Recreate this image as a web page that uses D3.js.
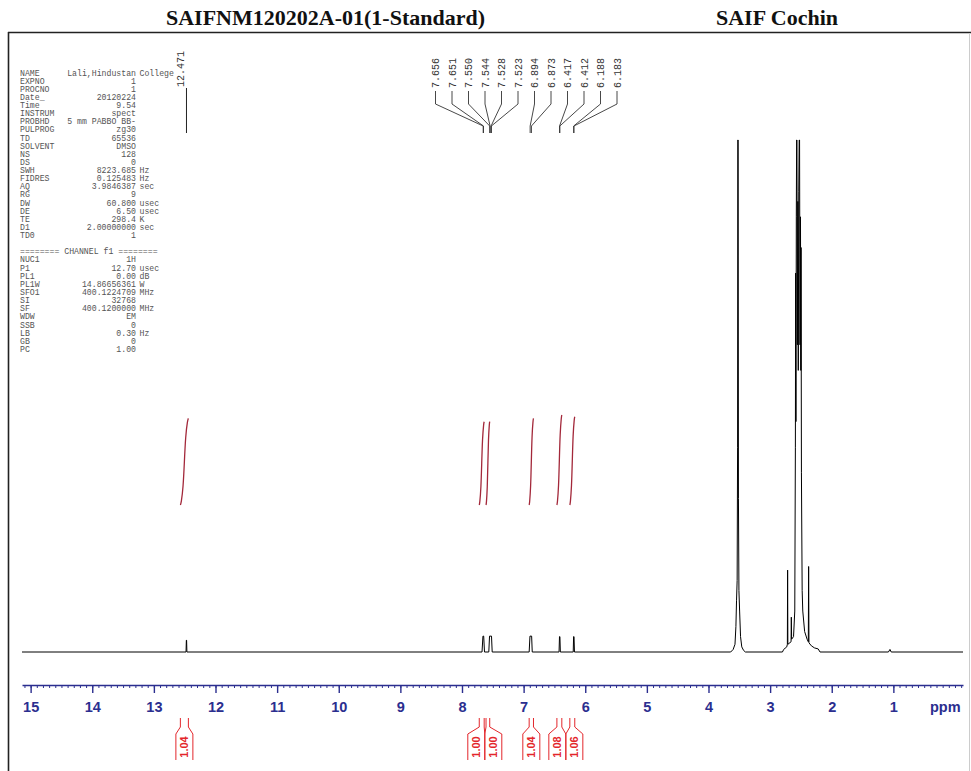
<!DOCTYPE html>
<html>
<head>
<meta charset="utf-8">
<script src="https://cdn.jsdelivr.net/npm/d3@7"></script>
<style>
body { margin: 0; background: #fff; }
</style>
</head>
<body>
<div id="chart"></div>
<script>
var titleLeft = "SAIFNM120202A-01(1-Standard)"
var titleRight = "SAIF Cochin"

// acquisition parameters block
var paramNames = ["NAME", "EXPNO", "PROCNO", "Date_", "Time", "INSTRUM", "PROBHD", "PULPROG", "TD", "SOLVENT",
    "NS", "DS", "SWH", "FIDRES", "AQ", "RG", "DW", "DE", "TE", "D1", "TD0", "",
    "======== CHANNEL f1 ========", "NUC1", "P1", "PL1", "PL1W", "SFO1", "SI", "SF", "WDW", "SSB", "LB", "GB", "PC"]
var paramValues = ["Lali,Hindustan", "1", "1", "20120224", "9.54", "spect", "5 mm PABBO BB-", "zg30", "65536", "DMSO",
    "128", "0", "8223.685", "0.125483", "3.9846387", "9", "60.800", "6.50", "298.4", "2.00000000", "1", "",
    "", "1H", "12.70", "0.00", "14.86656361", "400.1224709", "32768", "400.1200000", "EM", "0", "0.30", "0", "1.00"]
var paramUnits = ["College", "", "", "", "", "", "", "", "", "",
    "", "", "Hz", "Hz", "sec", "", "usec", "usec", "K", "sec", "", "",
    "", "", "usec", "dB", "W", "MHz", "", "MHz", "", "", "Hz", "", ""]

var singleLabel = 12.471
var peakLabels = [7.656, 7.651, 7.550, 7.544, 7.528, 7.523, 6.894, 6.873, 6.417, 6.412, 6.188, 6.183]

var axisTicks = [15, 14, 13, 12, 11, 10, 9, 8, 7, 6, 5, 4, 3, 2, 1]

// spectrum trace, [ppm, relative intensity]
var spectrum = [
    [15.14, 0], [12.478, 0], [12.473, 2.3], [12.469, 2.3], [12.464, 0],
    [7.675, 0], [7.660, 3.1], [7.648, 3.1], [7.635, 0],
    [7.565, 0], [7.553, 3.1], [7.521, 3.1], [7.51, 0],
    [6.91, 0], [6.897, 3.1], [6.870, 3.1], [6.86, 0],
    [6.425, 0], [6.418, 3.0], [6.411, 3.0], [6.404, 0],
    [6.195, 0], [6.189, 3.0], [6.182, 3.0], [6.175, 0],
    [3.64, 0], [3.60, 0.5], [3.57, 1.5], [3.555, 5], [3.545, 10], [3.535, 14], [3.528, 40],
    [3.524, 100], [3.519, 100], [3.514, 30], [3.506, 12], [3.495, 8], [3.48, 3], [3.46, 1], [3.43, 0.3], [3.40, 0],
    [2.80, 0], [2.78, 0.5], [2.73, 1], [2.72, 1.5], [2.716, 16], [2.712, 1.5], [2.66, 2], [2.656, 6.8], [2.651, 2.5],
    [2.62, 3], [2.60, 8], [2.59, 40], [2.586, 74], [2.581, 45], [2.575, 85], [2.570, 100], [2.565, 100],
    [2.558, 60], [2.550, 88], [2.543, 55], [2.535, 90], [2.528, 100], [2.522, 100], [2.515, 60], [2.507, 85],
    [2.502, 55], [2.498, 79], [2.492, 35], [2.48, 12], [2.47, 8], [2.44, 4], [2.40, 2.5], [2.38, 2],
    [2.375, 16.7], [2.370, 1.8], [2.33, 1.2], [2.28, 0.8], [2.22, 0.6], [2.19, 0],
    [1.08, 0], [1.055, 0.5], [1.035, 0], [-0.13, 0]
]

var integralFrom = [12.57, 7.72, 7.61, 6.91, 6.46, 6.25]
var integralTo = [12.44, 7.64, 7.55, 6.84, 6.38, 6.17]
var integralValues = [1.04, 1.00, 1.00, 1.04, 1.08, 1.06]

var width = 971, height = 771
var axisY = 685

var svg = d3.select("#chart").append("svg")
    .attr("width", width)
    .attr("height", height)

var x = d3.scaleLinear().domain([15.14, -0.13]).range([22, 963])
var y = d3.scaleLinear().domain([0, 100]).range([652, 140])
var yInt = d3.scaleLinear().domain([0, 1]).range([505, 421.7])

// frame
svg.append("line").attr("x1", 8).attr("x2", width).attr("y1", 32.5).attr("y2", 32.5)
    .attr("stroke", "#222").attr("stroke-width", 1.6)
svg.append("line").attr("x1", 8.5).attr("x2", 8.5).attr("y1", 32).attr("y2", height)
    .attr("stroke", "#222").attr("stroke-width", 1.6)
svg.append("line").attr("x1", 969.5).attr("x2", 969.5).attr("y1", 33).attr("y2", height)
    .attr("stroke", "#ccc").attr("stroke-width", 1)

// titles
svg.append("text").attr("x", 166).attr("y", 25)
    .style("font", "bold 22px 'Liberation Serif', serif").attr("fill", "#111")
    .text(titleLeft)
svg.append("text").attr("x", 716).attr("y", 25)
    .style("font", "bold 22px 'Liberation Serif', serif").attr("fill", "#111")
    .text(titleRight)

// parameter listing
var params = svg.append("g")
    .style("font-family", "'Liberation Mono', monospace")
    .style("font-size", "8.2px")
    .attr("fill", "#555")

paramNames.forEach(function(n, i) {
    var yy = 75.5 + i * 8.13
    params.append("text").attr("x", 20).attr("y", yy).text(n)
    params.append("text").attr("x", 136).attr("y", yy).attr("text-anchor", "end").text(paramValues[i])
    params.append("text").attr("x", 139.5).attr("y", yy).text(paramUnits[i])
})

// spectrum
var line = d3.line()
    .x(function(d) { return x(d[0]); })
    .y(function(d) { return y(d[1]); })

svg.append("path")
    .datum(spectrum)
    .attr("d", line)
    .attr("fill", "none")
    .attr("stroke", "#000")
    .attr("stroke-width", 1)

// peak labels
var labelFont = "10px 'Liberation Mono', monospace"

svg.append("text")
    .attr("transform", "translate(" + (x(singleLabel) - 2.5) + ",87) rotate(-90)")
    .style("font", labelFont).attr("fill", "#333")
    .text(singleLabel.toFixed(3))
svg.append("line")
    .attr("x1", x(singleLabel)).attr("x2", x(singleLabel))
    .attr("y1", 88).attr("y2", 133)
    .attr("stroke", "#222")

var labelStart = 435.5, labelStep = 16.5

var labels = svg.selectAll(".peak-label")
    .data(peakLabels)
    .enter().append("g")
    .attr("class", "peak-label")

labels.append("text")
    .attr("transform", function(d, i) { return "translate(" + (labelStart + i * labelStep + 3.5) + ",88) rotate(-90)"; })
    .style("font", labelFont).attr("fill", "#333")
    .text(function(d) { return d.toFixed(3); })

labels.append("path")
    .attr("d", function(d, i) {
        var lx = labelStart + i * labelStep
        return "M" + lx + ",91V104L" + x(d) + ",126V133";
    })
    .attr("fill", "none")
    .attr("stroke", "#333")
    .attr("stroke-width", 0.9)

// integral curves
var shape = [[0, 0], [0.1, 0.02], [0.35, 0.2], [0.5, 0.5], [0.65, 0.8], [0.9, 0.98], [1, 1]]
var intLine = d3.line().curve(d3.curveBasis)

integralValues.forEach(function(v, i) {
    var x0 = x(integralFrom[i]), x1 = x(integralTo[i])
    var pts = shape.map(function(s) { return [x0 + s[0] * (x1 - x0), yInt(s[1] * v)]; })
    svg.append("path")
        .attr("d", intLine(pts))
        .attr("fill", "none")
        .attr("stroke", "#a3283a")
        .attr("stroke-width", 1.3)
})

// axis
var minorTicks = d3.range(-1, 152).map(function(d) { return d / 10; })

svg.append("g")
    .attr("transform", "translate(0," + axisY + ")")
    .call(d3.axisBottom(x).tickValues(minorTicks).tickSize(3).tickSizeOuter(0).tickFormat(""))
    .call(function(g) {
        g.select(".domain").attr("stroke", "#2b2e8f").attr("stroke-width", 1.3)
        g.selectAll(".tick line").attr("stroke", "#2b2e8f")
    })

svg.append("g")
    .attr("transform", "translate(0," + axisY + ")")
    .call(d3.axisBottom(x).tickValues(axisTicks).tickSize(8).tickPadding(9).tickFormat(d3.format("d")))
    .call(function(g) {
        g.select(".domain").remove()
        g.selectAll(".tick line").attr("stroke", "#2b2e8f").attr("stroke-width", 1.4)
        g.selectAll(".tick text")
            .attr("fill", "#2b2e8f")
            .style("font", "bold 14.5px 'Liberation Sans', Arial, sans-serif")
    })

svg.append("text")
    .attr("x", 930).attr("y", 712)
    .style("font", "bold 14.5px 'Liberation Sans', Arial, sans-serif")
    .attr("fill", "#2b2e8f")
    .text("ppm")

// integral value boxes under the axis, pushed apart so they do not overlap
var boxW = 17
var centers = integralValues.map(function(v, i) { return (x(integralFrom[i]) + x(integralTo[i])) / 2; })
for (var k = 1; k < centers.length; k++) {
    if (centers[k] - centers[k - 1] < boxW) {
        var mid = (centers[k] + centers[k - 1]) / 2
        centers[k - 1] = mid - boxW / 2
        centers[k] = mid + boxW / 2
    }
}

var red = "#e3262b"
integralValues.forEach(function(v, i) {
    var x0 = x(integralFrom[i]), x1 = x(integralTo[i]), cx = centers[i]
    svg.append("path")
        .attr("d", "M" + x0 + ",718V727L" + (cx - boxW / 2) + ",734V760" +
            "M" + x1 + ",718V727L" + (cx + boxW / 2) + ",734V760")
        .attr("fill", "none")
        .attr("stroke", red)
        .attr("stroke-width", 1)
    svg.append("text")
        .attr("transform", "translate(" + (cx + 4) + ",747) rotate(-90)")
        .attr("text-anchor", "middle")
        .style("font", "bold 11px 'Liberation Sans', Arial, sans-serif")
        .attr("fill", red)
        .text(v.toFixed(2))
})
</script>
</body>
</html>
